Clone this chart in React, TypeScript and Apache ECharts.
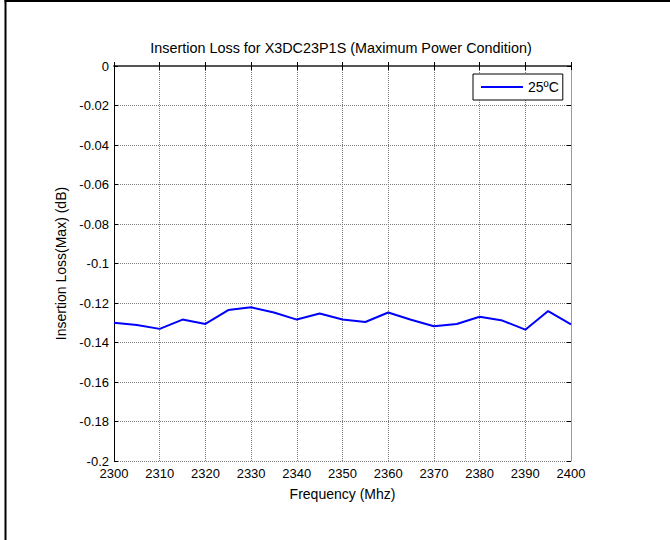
import React, { useEffect, useRef } from "react";
import * as echarts from "echarts";

const frequencies = [
  2300, 2305, 2310, 2315, 2320, 2325, 2330, 2335, 2340, 2345, 2350,
  2355, 2360, 2365, 2370, 2375, 2380, 2385, 2390, 2395, 2400,
];
const loss25C = [
  -0.130, -0.1311, -0.1331, -0.1284, -0.1306, -0.1236, -0.1222, -0.1248,
  -0.1284, -0.1253, -0.1284, -0.1296, -0.1248, -0.1285, -0.1318, -0.1306,
  -0.127, -0.1289, -0.1335, -0.1241, -0.1308,
];
const seriesName = "25ºC";
const titleText = "Insertion Loss for X3DC23P1S (Maximum Power Condition)";
const xName = "Frequency (Mhz)";
const yName = "Insertion Loss(Max) (dB)";

const FONT = "'Liberation Sans', Arial, sans-serif";

export default function App() {
  const ref = useRef<HTMLDivElement>(null);
  useEffect(() => {
    if (!ref.current) return;
    const chart = echarts.init(ref.current, undefined, { renderer: "svg" });
    const fmtY = (v: number) => {
      const r = Math.round(v * 100) / 100;
      return r === 0 ? "0" : String(r);
    };
    const gridLine = { show: true, lineStyle: { color: "#7a7a7a", type: "dotted" as const, width: 1 } };
    chart.setOption({
      animation: false,
      backgroundColor: "#ffffff",
      textStyle: { fontFamily: FONT },
      grid: { left: 114, right: 99, top: 66, bottom: 79, containLabel: false },
      graphic: [
        { type: "line", shape: { x1: 5.5, y1: 0, x2: 5.5, y2: 540 }, style: { stroke: "#000", lineWidth: 2 } },
        { type: "line", shape: { x1: 4.5, y1: 1, x2: 670, y2: 1 }, style: { stroke: "#000", lineWidth: 2 } },
        {
          type: "text",
          x: 341,
          y: 48,
          style: {
            text: titleText,
            fontSize: 14.4,
            fontFamily: FONT,
            fill: "#000",
            align: "center",
            verticalAlign: "middle",
          },
        },
      ],
      legend: {
        data: [{ name: seriesName, icon: "rect" }],
        left: 473,
        top: 74,
        itemWidth: 42,
        itemHeight: 2,
        padding: [5, 4, 5, 8],
        borderColor: "#000",
        borderWidth: 1,
        backgroundColor: "#fff",
        textStyle: { fontSize: 14, color: "#000", fontFamily: FONT, lineHeight: 16 },
      },
      xAxis: [
        {
          type: "value",
          min: 2300,
          max: 2400,
          interval: 10,
          name: xName,
          nameLocation: "middle",
          nameGap: 26,
          nameTextStyle: { fontSize: 14, color: "#000", fontFamily: FONT },
          axisLine: { show: true, lineStyle: { color: "#555", width: 2 } },
          axisTick: { show: true, inside: true, length: 4, lineStyle: { color: "#000" } },
          axisLabel: { margin: 6, fontSize: 13, color: "#000", fontFamily: FONT, formatter: (v: number) => String(v) },
          splitLine: gridLine,
        },
        {
          type: "value",
          position: "top",
          min: 2300,
          max: 2400,
          interval: 10,
          axisLine: { show: false },
          axisTick: { show: true, inside: true, length: 4, lineStyle: { color: "#000" } },
          axisLabel: { show: false },
          splitLine: { show: false },
        },
      ],
      yAxis: [
        {
          type: "value",
          min: -0.2,
          max: 0,
          interval: 0.02,
          name: yName,
          nameLocation: "middle",
          nameGap: 45,
          nameTextStyle: { fontSize: 14, color: "#000", fontFamily: FONT },
          axisLine: { show: true, lineStyle: { color: "#000", width: 1 } },
          axisTick: { show: true, inside: true, length: 4, lineStyle: { color: "#000" } },
          axisLabel: { margin: 5, fontSize: 13, color: "#000", fontFamily: FONT, formatter: fmtY },
          splitLine: gridLine,
        },
        {
          type: "value",
          position: "right",
          min: -0.2,
          max: 0,
          interval: 0.02,
          axisLine: { show: true, lineStyle: { color: "#999", width: 1 } },
          axisTick: { show: true, inside: true, length: 4, lineStyle: { color: "#000" } },
          axisLabel: { show: false },
          splitLine: { show: false },
        },
      ],
      series: [
        {
          name: seriesName,
          type: "line",
          xAxisIndex: 0,
          yAxisIndex: 0,
          data: frequencies.map((f, i) => [f, loss25C[i]]),
          symbol: "none",
          lineStyle: { color: "#0000ff", width: 2 },
          itemStyle: { color: "#0000ff" },
        },
      ],
    });
    return () => chart.dispose();
  }, []);
  return (
    <div
      ref={ref}
      style={{ position: "fixed", left: 0, top: 0, width: 670, height: 540 }}
    />
  );
}
